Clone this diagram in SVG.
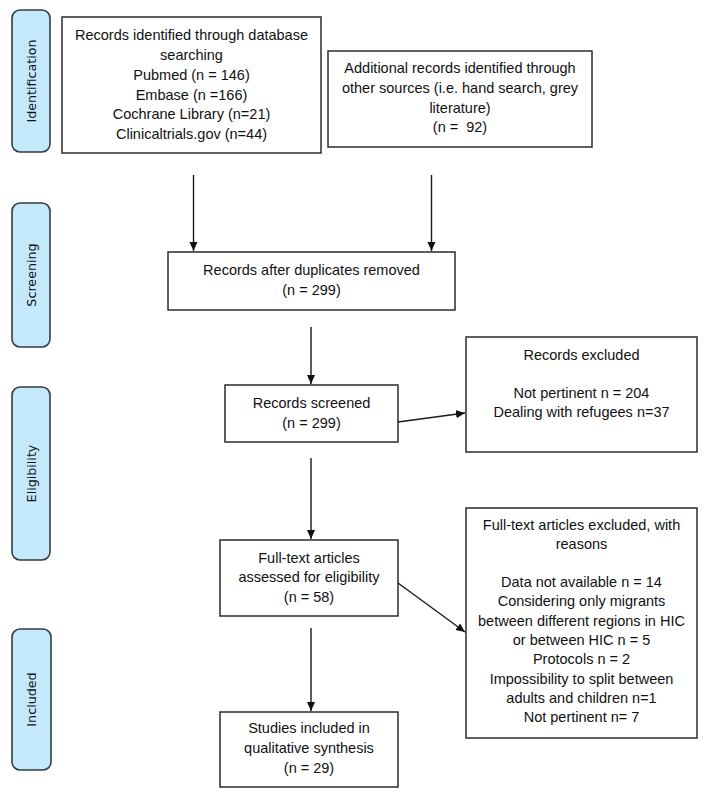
<svg xmlns="http://www.w3.org/2000/svg" width="706" height="797" viewBox="0 0 706 797">
<style>
.box{fill:#fff;stroke:#2b2b2b;stroke-width:1.5}
.pill{fill:#c4e9fb;stroke:#333c44;stroke-width:1.6}
.t{font-family:"Liberation Sans",Arial,sans-serif;font-size:14.5px;fill:#111;text-anchor:middle}
.p{font-family:"DejaVu Sans",sans-serif;font-size:12.7px;fill:#111;text-anchor:middle}
.c{stroke:#1a1a1a;stroke-width:1.4;fill:none;marker-end:url(#ah)}
</style>
<defs>
<marker id="ah" markerUnits="userSpaceOnUse" markerWidth="10" markerHeight="10" refX="9" refY="4" orient="auto">
<path d="M0,0 L9,4 L0,8 Z" fill="#111"/>
</marker>
</defs>
<rect width="706" height="797" fill="#fff"/>
<g id="stage-identification"><rect class="pill" x="12" y="10" width="38" height="142" rx="8"/><text class="p" transform="translate(35.5,81) rotate(-90)">Identification</text></g>
<g id="stage-screening"><rect class="pill" x="12" y="203" width="38" height="144" rx="8"/><text class="p" transform="translate(35.5,275) rotate(-90)">Screening</text></g>
<g id="stage-eligibility"><rect class="pill" x="12" y="387" width="38" height="173" rx="8"/><text class="p" transform="translate(35.5,473.5) rotate(-90)">Eligibility</text></g>
<g id="stage-included"><rect class="pill" x="12" y="629" width="39" height="141" rx="8"/><text class="p" transform="translate(35.5,699.5) rotate(-90)">Included</text></g>
<g id="n-database"><rect class="box" x="62" y="17" width="259" height="136"/>
<text class="t" x="191.5" y="40">Records identified through database</text>
<text class="t" x="191.5" y="59.5">searching</text>
<text class="t" x="191.5" y="80">Pubmed (n = 146)</text>
<text class="t" x="191.5" y="99.5">Embase (n =166)</text>
<text class="t" x="191.5" y="119">Cochrane Library (n=21)</text>
<text class="t" x="191.5" y="138.5">Clinicaltrials.gov (n=44)</text></g>
<g id="n-additional"><rect class="box" x="328" y="51" width="264" height="96"/>
<text class="t" x="460" y="73">Additional records identified through</text>
<text class="t" x="460" y="93">other sources (i.e. hand search, grey</text>
<text class="t" x="460" y="113">literature)</text>
<text class="t" x="460" y="132" xml:space="preserve">(n =  92)</text></g>
<g id="n-duplicates"><rect class="box" x="168" y="252" width="287" height="58"/>
<text class="t" x="311.5" y="275">Records after duplicates removed</text>
<text class="t" x="311.5" y="295">(n = 299)</text></g>
<g id="n-screened"><rect class="box" x="225" y="385" width="173" height="57"/>
<text class="t" x="311.5" y="408">Records screened</text>
<text class="t" x="311.5" y="428">(n = 299)</text></g>
<g id="n-excluded"><rect class="box" x="466" y="337" width="231" height="115"/>
<text class="t" x="581.5" y="360">Records excluded</text>
<text class="t" x="581.5" y="398">Not pertinent n = 204</text>
<text class="t" x="581.5" y="417">Dealing with refugees n=37</text></g>
<g id="n-fulltext"><rect class="box" x="220" y="540" width="178" height="76"/>
<text class="t" x="309" y="563">Full-text articles</text>
<text class="t" x="309" y="582">assessed for eligibility</text>
<text class="t" x="309" y="602">(n = 58)</text></g>
<g id="n-ft-excluded"><rect class="box" x="466" y="508" width="231" height="230"/>
<text class="t" x="581.5" y="530">Full-text articles excluded, with</text>
<text class="t" x="581.5" y="549">reasons</text>
<text class="t" x="581.5" y="587">Data not available n = 14</text>
<text class="t" x="581.5" y="606">Considering only migrants</text>
<text class="t" x="581.5" y="626">between different regions in HIC</text>
<text class="t" x="581.5" y="645">or between HIC n = 5</text>
<text class="t" x="581.5" y="664">Protocols n = 2</text>
<text class="t" x="581.5" y="684">Impossibility to split between</text>
<text class="t" x="581.5" y="703">adults and children n=1</text>
<text class="t" x="581.5" y="722">Not pertinent n= 7</text></g>
<g id="n-included"><rect class="box" x="220" y="712" width="178" height="75"/>
<text class="t" x="309" y="733">Studies included in</text>
<text class="t" x="309" y="753">qualitative synthesis</text>
<text class="t" x="309" y="773">(n = 29)</text></g>
<g id="connectors">
<line class="c" x1="193.5" y1="175" x2="193.5" y2="251"/>
<line class="c" x1="431.5" y1="175" x2="431.5" y2="251"/>
<line class="c" x1="311" y1="327" x2="311" y2="384"/>
<line class="c" x1="398" y1="422" x2="465" y2="413"/>
<line class="c" x1="311" y1="458" x2="311" y2="539"/>
<line class="c" x1="398" y1="583" x2="465" y2="632"/>
<line class="c" x1="311" y1="628" x2="311" y2="711"/>
</g>
</svg>
